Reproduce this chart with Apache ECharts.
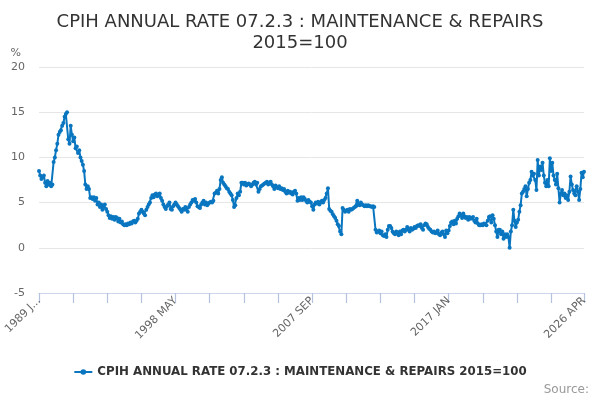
<!DOCTYPE html>
<html>
<head>
  <meta charset="utf-8" />
  <title>CPIH 07.2.3</title>
  <script src="https://cdn.jsdelivr.net/npm/echarts@6/dist/echarts.min.js"></script>
  <style>
    html, body { margin: 0; padding: 0; background: #fff; }
    #main { width: 600px; height: 400px; }
  </style>
</head>
<body>
  <div id="main"></div>
  <script type="text/javascript">
    const MONTHS = ['JAN', 'FEB', 'MAR', 'APR', 'MAY', 'JUN', 'JUL', 'AUG', 'SEP', 'OCT', 'NOV', 'DEC'];

    // monthly annual rates (%)
    const rates1989to1995 = [
      8.5, 8.0, 7.6, 7.8, 8.0, 7.2, 6.8, 7.4, 7.0, 7.2, 6.8, 7.0,
      9.5, 10.0, 10.8, 11.5, 12.5, 12.8, 13.0, 13.5, 13.8, 14.5, 14.8, 15.0,
      12.0, 11.5, 13.5, 12.5, 11.8, 12.2, 11.0, 11.2, 10.5, 10.8, 10.0, 9.6,
      9.2, 8.5, 7.0, 6.5, 6.8, 6.5, 5.5, 5.6, 5.4, 5.6, 5.2, 5.5,
      4.8, 5.0, 4.5, 4.8, 4.2, 4.6, 4.8, 4.3, 4.0, 3.6, 3.3, 3.5,
      3.2, 3.4, 3.1, 3.4, 3.3, 2.9, 3.2, 2.8, 2.9, 2.6, 2.5, 2.6,
      2.5, 2.7, 2.6, 2.8, 2.7, 2.9, 3.0, 2.8, 3.0, 3.2, 3.8, 4.0
    ];
    const rates1996to2002 = [
      4.2, 4.0, 3.8, 3.6, 4.2, 4.5, 4.8, 5.0, 5.5, 5.8, 5.6, 5.9,
      6.0, 5.7, 5.8, 6.0, 5.5, 5.2, 4.8, 4.5, 4.3, 4.6, 4.8, 5.0,
      4.3, 4.2, 4.6, 4.8, 5.0, 4.8, 4.6, 4.4, 4.2, 4.0, 4.3, 4.2,
      4.5, 4.2, 4.0, 4.5, 4.8, 5.0, 5.3, 5.2, 5.4, 5.0, 4.6, 4.5,
      4.4, 4.8, 5.0, 5.2, 4.8, 5.0, 4.7, 4.9, 5.0, 5.1, 5.0, 5.2,
      6.0, 6.1, 6.3, 6.0, 6.5, 7.5, 7.8, 7.2, 7.0, 6.8, 6.6, 6.5,
      6.2, 6.0, 5.8, 5.3, 4.5, 4.7, 5.5, 6.0, 5.8, 6.2, 7.2, 7.2
    ];
    const rates2003to2009 = [
      7.0, 7.2, 6.9, 7.0, 7.1, 7.0, 6.8, 7.0, 7.2, 7.3, 7.0, 7.2,
      6.2, 6.5, 6.8, 6.9, 7.0, 7.1, 7.2, 7.3, 7.0, 7.2, 7.3, 7.0,
      6.8, 6.5, 6.9, 6.7, 6.6, 6.8, 6.5, 6.6, 6.4, 6.5, 6.2, 6.0,
      6.3, 6.1, 6.2, 6.0, 5.9, 6.2, 6.3, 6.0, 5.2, 5.5, 5.3, 5.6,
      5.3, 5.6, 5.4, 5.2, 5.0, 5.3, 5.1, 5.0, 4.6, 4.2, 4.8, 5.0,
      4.9, 5.1, 4.8, 5.0, 5.2, 5.0, 5.3, 5.5, 6.0, 6.6, 4.3, 4.1,
      4.0, 3.7, 3.5, 3.3, 3.0, 2.6, 2.4, 1.8, 1.5, 4.4, 4.2, 4.0
    ];
    const rates2010to2016 = [
      4.1, 4.2, 4.0, 4.3, 4.2, 4.3, 4.4, 4.5, 4.6, 5.2, 4.8, 4.7,
      5.0, 4.8, 4.7, 4.6, 4.7, 4.6, 4.7, 4.6, 4.6, 4.5, 4.6, 4.5,
      2.0, 1.7, 1.8, 1.9, 1.6, 1.8, 1.4, 1.3, 1.5, 1.2, 2.0, 2.4,
      2.4, 2.2, 1.8, 1.6, 1.5, 1.8, 1.6, 1.4, 1.8, 1.5, 1.9, 2.0,
      1.8, 2.0, 2.3, 2.0, 1.8, 2.2, 2.0, 2.1, 2.3, 2.2, 2.4, 2.5,
      2.4, 2.6, 2.2, 2.0, 2.5, 2.7, 2.6, 2.3, 2.1, 2.0, 1.8, 1.7,
      1.8, 1.6, 1.7, 1.9, 1.5, 1.4, 1.7, 1.8, 1.5, 1.2, 1.9, 1.6
    ];
    const rates2017to2026 = [
      1.9, 2.4, 2.8, 2.9, 2.6, 3.0, 2.7, 3.2, 3.5, 3.8, 3.6, 3.3,
      3.8, 3.5, 3.3, 3.4, 3.1, 3.4, 3.2, 3.3, 3.4, 3.0, 2.8, 3.2,
      2.7, 2.5, 2.5, 2.6, 2.5, 2.7, 2.6, 2.5, 3.0, 3.4, 3.5, 2.8,
      3.6, 3.2, 2.5, 1.8, 1.2, 2.0, 2.0, 1.5, 1.8, 1.0, 1.5, 1.2,
      1.5, 1.2, 0.0, 1.8, 2.5, 4.2, 3.0, 2.3, 2.8, 3.1, 4.0, 4.7,
      6.0, 6.2, 6.5, 6.8, 5.7, 6.5, 7.2, 7.5, 8.4, 8.0, 8.2, 7.5,
      6.4, 9.7, 8.0, 9.0, 8.6, 9.4, 8.0, 7.2, 6.8, 7.5, 6.8, 9.9,
      8.5, 9.4, 8.0, 7.5, 7.0, 8.2, 6.6, 5.0, 6.0, 6.4, 5.8, 6.0,
      5.5, 5.8, 5.3, 6.2, 7.9, 7.0, 6.4, 6.0, 5.8, 6.8, 6.2, 5.3,
      6.5, 8.3, 7.8, 8.4
    ];

    const rates = [].concat(rates1989to1995, rates1996to2002, rates2003to2009, rates2010to2016, rates2017to2026);

    const categories = [];
    for (let i = 0; i < rates.length; i++) {
      categories.push((1989 + Math.floor(i / 12)) + ' ' + MONTHS[i % 12]);
    }
    const last = categories.length - 1;
    const labelIdx = [0, 112, 224, 336, last];

    const seriesName = 'CPIH ANNUAL RATE 07.2.3 : MAINTENANCE & REPAIRS 2015=100';
    const chart = echarts.init(document.getElementById('main'));

    chart.setOption({
      animation: false,
      textStyle: { fontFamily: 'DejaVu Sans' },
      title: {
        text: 'CPIH ANNUAL RATE 07.2.3 : MAINTENANCE & REPAIRS\n2015=100',
        left: 'center',
        top: 7,
        textStyle: { fontSize: 18, fontWeight: 'normal', color: '#333', lineHeight: 21 }
      },
      legend: {
        bottom: 17,
        left: 'center',
        itemWidth: 18,
        itemHeight: 7,
        itemGap: 4,
        textStyle: { fontSize: 11.8, fontWeight: 'bold', color: '#333' },
        data: [seriesName]
      },
      graphic: [{
        type: 'text',
        right: 11,
        bottom: 4,
        style: { text: 'Source:', fill: '#999', fontSize: 12, fontFamily: 'DejaVu Sans' }
      }],
      grid: { left: 39, right: 16, top: 67, bottom: 107 },
      xAxis: {
        type: 'category',
        data: categories,
        boundaryGap: false,
        axisLine: { onZero: false, lineStyle: { color: '#ccd6eb' } },
        axisTick: {
          show: true,
          length: 10,
          lineStyle: { color: '#b4c2dd', width: 1.2 },
          interval: function (i) { return i % 28 === 0 || i === last; }
        },
        axisLabel: {
          rotate: 45,
          color: '#666',
          fontSize: 11,
          margin: 6,
          interval: function (i) { return labelIdx.indexOf(i) >= 0; },
          formatter: function (v, i) { return i === 0 ? '1989 J...' : v; }
        }
      },
      yAxis: {
        type: 'value',
        min: -5,
        max: 20,
        interval: 5,
        name: '%',
        nameLocation: 'end',
        nameGap: 8,
        nameTextStyle: { color: '#666', fontSize: 11, align: 'right', padding: [0, 18, 0, 0] },
        axisLabel: { color: '#666', fontSize: 11, margin: 14 },
        splitLine: { lineStyle: { color: '#e6e6e6' } }
      },
      series: [{
        name: seriesName,
        type: 'line',
        data: rates,
        symbol: 'circle',
        symbolSize: 4,
        showAllSymbol: true,
        lineStyle: { color: '#0a76c0', width: 2 },
        itemStyle: { color: '#0a76c0' }
      }]
    });
  </script>
</body>
</html>
